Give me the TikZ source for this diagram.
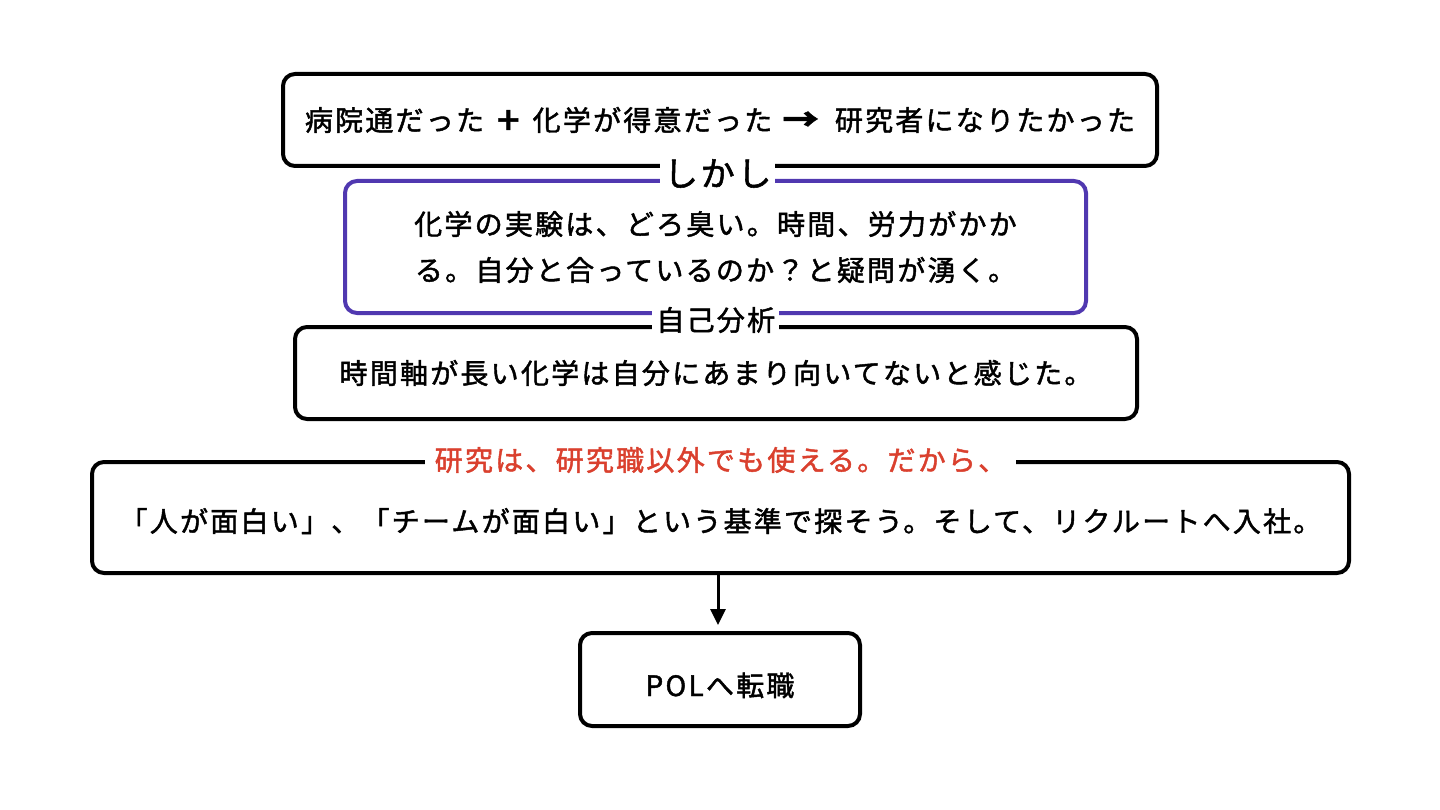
\documentclass[tikz,border=0pt]{standalone}
\usepackage{fontspec}
\setmainfont{Noto Sans CJK JP}[LetterSpace=8, FakeBold=1.6]
\usetikzlibrary{positioning,arrows.meta,calc}
\definecolor{purp}{RGB}{80,56,176}
\definecolor{redtxt}{RGB}{218,64,46}

\begin{document}
\begin{tikzpicture}[x=1pt, y=-1pt,
  box/.style={draw, line width=4pt, rounded corners=12pt, fill=white, align=center, font=\fontsize{28}{46}\selectfont, inner sep=0pt},
  tag/.style={fill=white, inner xsep=4pt, inner ysep=0pt, font=\fontsize{#1}{#1}\selectfont},
  tag/.default=28,
  arr/.style={-{Triangle[length=16pt, width=15pt]}, line width=3pt}]
  \useasboundingbox (0,0) rectangle (1440,810);
  \node[box, minimum width=874, minimum height=92] (wish) at (720,120) {病院通だった\hspace{8pt}\textbf{＋}\hspace{8pt}化学が得意だった\hspace{8pt}\textbf{\scalebox{1.3}[1.1]{→}}\hspace{16pt}研究者になりたかった};
  \node[box, draw=purp, minimum width=741, minimum height=132] (doubt) at (715.5,247) {化学の実験は、どろ臭い。時間、労力がかか\\る。自分と合っているのか？と疑問が湧く。};
  \node[box, minimum width=842, minimum height=92] (fit) at (716,373) {時間軸が長い化学は自分にあまり向いてないと感じた。};
  \node[box, minimum width=1257, minimum height=111, text height=28.5pt, text depth=0pt] (rule) at (720.5,517.5) {「人が面白い」、「チームが面白い」という基準で探そう。そして、リクルートへ入社。};
  \node[box, minimum width=280, minimum height=93, text height=33pt, text depth=0pt] (pol) at (720,679.5) {POLへ転職};
  % labels on the borders
  \node[tag=34] (but) at ($(wish.south)!0.5!(doubt.north)$) {しかし};
  \node[tag] (self) at ($(doubt.south)!0.5!(fit.north)$) {自己分析};
  \node[tag, text=redtxt, inner xsep=10pt] (so) at (rule.north) {研究は、研究職以外でも使える。だから、};
  \draw[arr, shorten >=6pt] (rule.south -| 718,0) -- (pol.north -| 718,0);
\end{tikzpicture}
\end{document}
